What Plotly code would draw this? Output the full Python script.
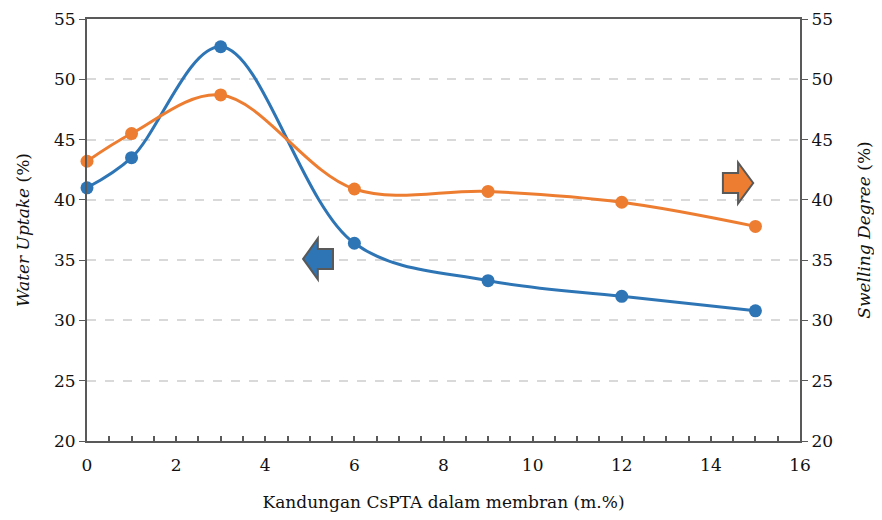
import plotly.graph_objects as go

x_vals = [0, 1, 3, 6, 9, 12, 15]
water_uptake = [41.0, 43.5, 52.7, 36.4, 33.3, 32.0, 30.8]
swelling_degree = [43.2, 45.5, 48.7, 40.9, 40.7, 39.8, 37.8]
y_ticks = [20, 25, 30, 35, 40, 45, 50, 55]
x_ticks = [0, 2, 4, 6, 8, 10, 12, 14, 16]

BLUE = "#2E75B6"
ORANGE = "#ED7D31"
FONT = "DejaVu Serif"

fig = go.Figure()
fig.add_trace(go.Scatter(
    x=x_vals, y=water_uptake, mode="lines+markers",
    line=dict(color=BLUE, width=3, shape="spline", smoothing=1.0),
    marker=dict(size=13, color=BLUE), yaxis="y", showlegend=False, cliponaxis=False))
fig.add_trace(go.Scatter(
    x=x_vals, y=swelling_degree, mode="lines+markers",
    line=dict(color=ORANGE, width=3, shape="spline", smoothing=1.0),
    marker=dict(size=13, color=ORANGE), yaxis="y2", showlegend=False, cliponaxis=False))

def arrow_path(tip_x, back_x, head_x, cy, head_half, shaft_half):
    return (f"M {tip_x},{cy} L {head_x},{cy + head_half} L {head_x},{cy + shaft_half} "
            f"L {back_x},{cy + shaft_half} L {back_x},{cy - shaft_half} L {head_x},{cy - shaft_half} "
            f"L {head_x},{cy - head_half} Z")

fig.add_shape(type="path", xref="x", yref="y",
              path=arrow_path(4.85, 5.52, 5.18, 35.1, 1.7, 0.83),
              fillcolor=BLUE, line=dict(color="#595959", width=2))
fig.add_shape(type="path", xref="x", yref="y",
              path=arrow_path(14.95, 14.27, 14.61, 41.4, 1.7, 0.83),
              fillcolor=ORANGE, line=dict(color="#595959", width=2))

axis_font = dict(family=FONT, size=17, color="#111111")
title_font = dict(family=FONT, size=17, color="#111111")

fig.update_layout(
    width=866, height=504,
    margin=dict(l=79, r=74, t=11, b=71),
    paper_bgcolor="white", plot_bgcolor="white",
    font=dict(family=FONT, color="#111111"),
    xaxis=dict(range=[0, 16], tickvals=x_ticks, tickfont=axis_font, automargin=False,
               showline=True, linecolor="#595959", linewidth=2, mirror=True,
               ticks="inside", ticklen=5, tickcolor="#595959", tickwidth=1.5,
               ticklabelstandoff=8,
               minor=dict(dtick=0.5, ticks="inside", ticklen=5, tickcolor="#595959"),
               showgrid=False, zeroline=False,
               title=dict(text="Kandungan CsPTA dalam membran (m.%)",
                          font=title_font, standoff=28)),
    yaxis=dict(range=[20, 55], tickvals=y_ticks, tickfont=axis_font, automargin=False,
               showline=True, linecolor="#595959", linewidth=2,
               ticks="outside", ticklen=6, tickcolor="#595959",
               showgrid=True, gridcolor="#D9D9D9", griddash="dash", gridwidth=1.5,
               zeroline=False,
               title=dict(text="<i>Water Uptake</i> (%)", font=title_font, standoff=20)),
    yaxis2=dict(range=[20, 55], tickvals=y_ticks, tickfont=axis_font, automargin=False,
                overlaying="y", side="right",
                showline=True, linecolor="#595959", linewidth=2,
                ticks="outside", ticklen=6, tickcolor="#595959",
                showgrid=False, zeroline=False,
                title=dict(text="<i>Swelling Degree</i> (%)", font=title_font, standoff=36)),
)

fig.write_html("out.html")
